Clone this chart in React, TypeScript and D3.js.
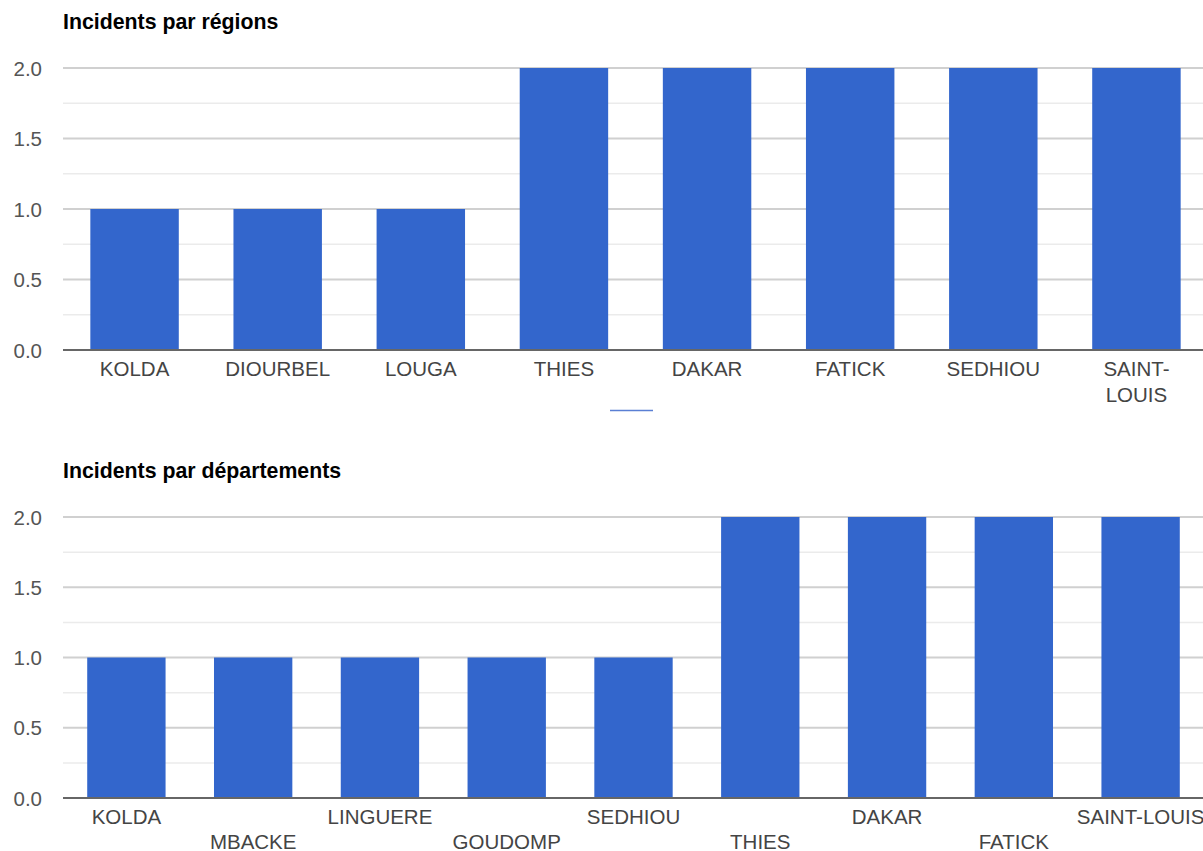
import React from "react";
import * as d3 from "d3";

const regionCategories = ["KOLDA", "DIOURBEL", "LOUGA", "THIES", "DAKAR", "FATICK", "SEDHIOU", "SAINT-LOUIS"];
const regionValues = [1, 1, 1, 2, 2, 2, 2, 2];

const deptCategories = ["KOLDA", "MBACKE", "LINGUERE", "GOUDOMP", "SEDHIOU", "THIES", "DAKAR", "FATICK", "SAINT-LOUIS"];
const deptValues = [1, 1, 1, 1, 1, 2, 2, 2, 2];

const yTicks = [0, 0.5, 1, 1.5, 2];
const yMinorTicks = [0.25, 0.75, 1.25, 1.75];

const FONT = "Arial, 'Liberation Sans', sans-serif";
const BAR = "#3366cc";

type ChartProps = {
  title: string;
  categories: string[];
  values: number[];
  top: number;
  bottom: number;
  left: number;
  right: number;
  labelMode: "wrap" | "stagger";
};

function BarChart({ title, categories, values, top, bottom, left, right, labelMode }: ChartProps) {
  const x = d3.scaleBand<string>().domain(categories).range([left, right]).paddingInner(0.382).paddingOuter(0.191);
  const y = d3.scaleLinear().domain([0, 2]).range([bottom, top]);
  const fmt = d3.format(".1f");
  return (
    <g>
      <text x={left} y={top - 39} fontFamily={FONT} fontWeight="bold" fontSize={21.3} fill="#000">
        {title}
      </text>
      {yMinorTicks.map((t) => (
        <line key={"m" + t} x1={left} x2={1203} y1={y(t)} y2={y(t)} stroke="#ebebeb" strokeWidth={1.5} />
      ))}
      {yTicks.map((t) => (
        <g key={"t" + t}>
          {t !== 0 && <line x1={left} x2={1203} y1={y(t)} y2={y(t)} stroke="#d0d0d0" strokeWidth={2} />}
          <text x={42} y={y(t) + 7.5} textAnchor="end" fontFamily={FONT} fontSize={20.5} fill="#555">
            {fmt(t)}
          </text>
        </g>
      ))}
      {categories.map((c, i) => (
        <rect key={"b" + c} x={x(c)} y={y(values[i])} width={x.bandwidth()} height={y(0) - y(values[i])} fill={BAR} />
      ))}
      <line x1={left} x2={1203} y1={y(0)} y2={y(0)} stroke="#666" strokeWidth={2} />
      {categories.map((c, i) => {
        const cx = (x(c) as number) + x.bandwidth() / 2;
        const base = y(0) + 25.5;
        if (labelMode === "wrap") {
          const lines = c.includes("-") ? [c.slice(0, c.indexOf("-") + 1), c.slice(c.indexOf("-") + 1)] : [c];
          return (
            <text key={"l" + c} textAnchor="middle" fontFamily={FONT} fontSize={20.5} fill="#444">
              {lines.map((ln, k) => (
                <tspan key={k} x={cx} y={base + k * 26}>
                  {ln}
                </tspan>
              ))}
            </text>
          );
        }
        return (
          <text key={"l" + c} x={cx} y={base + (i % 2) * 25.5} textAnchor="middle" fontFamily={FONT} fontSize={20.5} fill="#444">
            {c}
          </text>
        );
      })}
    </g>
  );
}

export default function App() {
  return (
    <svg width={1203} height={851} style={{ position: "fixed", left: 0, top: 0, background: "#fff" }}>
      <rect x={0} y={0} width={1203} height={851} fill="#fff" />
      <BarChart
        title="Incidents par régions"
        categories={regionCategories}
        values={regionValues}
        top={68}
        bottom={350}
        left={63}
        right={1208}
        labelMode="wrap"
      />
      <line x1={610} x2={653} y1={410.5} y2={410.5} stroke="#5a7fd4" strokeWidth={1.5} />
      <BarChart
        title="Incidents par départements"
        categories={deptCategories}
        values={deptValues}
        top={517}
        bottom={798}
        left={63}
        right={1204}
        labelMode="stagger"
      />
    </svg>
  );
}
